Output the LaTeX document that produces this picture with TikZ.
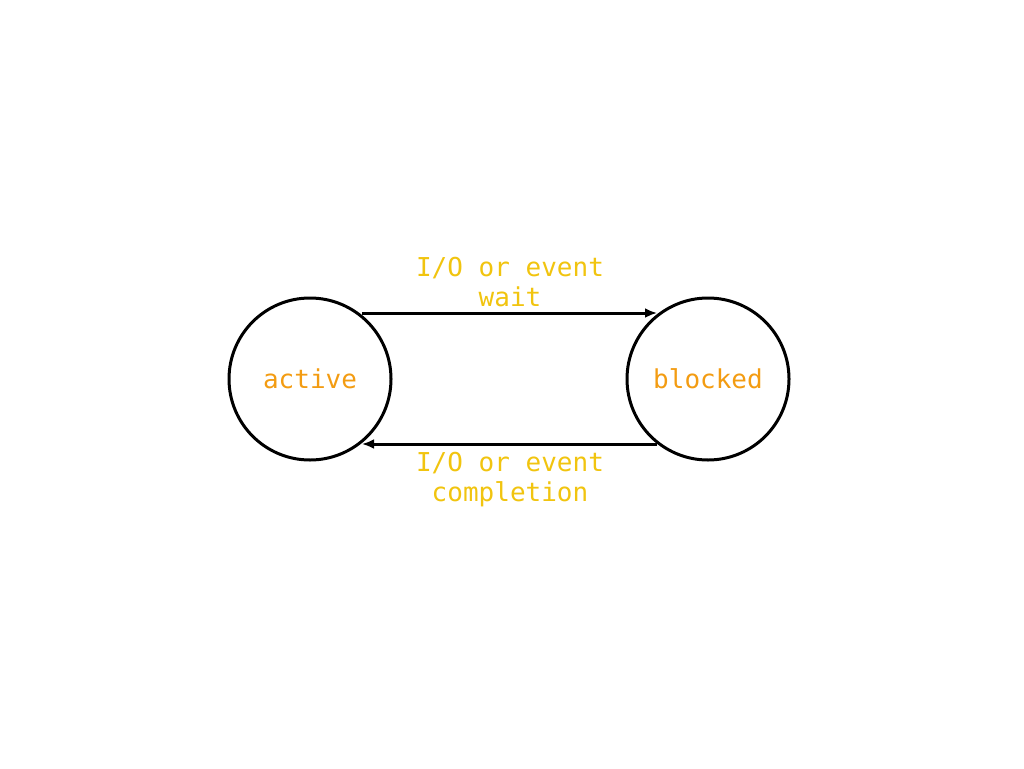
\documentclass[tikz,border=0pt]{standalone}
\usepackage{fontspec}
\setmonofont{DejaVu Sans Mono}
\definecolor{nodetxt}{HTML}{F39C12}
\definecolor{lbl}{HTML}{F1C40F}
\tikzset{
 st/.style={circle,draw=black,line width=3pt,minimum size=162pt,inner sep=0pt,text=nodetxt,font=\ttfamily\fontsize{26}{30}\selectfont},
 tr/.style={line width=3pt,-{Latex[length=12pt,width=10pt]}},
 lb/.style={text=lbl,align=center,font=\ttfamily\fontsize{26}{30}\selectfont}
}
\usetikzlibrary{arrows.meta}
\begin{document}
\begin{tikzpicture}[x=1pt,y=-1pt]
\useasboundingbox (0,0) rectangle (1024,768);
\node[st] (a) at (310,379) {active};
\node[st] (b) at (708,379) {blocked};
\coordinate (a1) at (362,313); \coordinate (b1) at (657,313);
\coordinate (a2) at (362,444); \coordinate (b2) at (657,444);
\draw[tr] (a1) -- (b1);
\draw[tr] (b2) -- (a2);
\node[lb] (l1) at (510,282) {I/O or event\\wait};
\node[lb] (l2) at (510,480) {I/O or event\\completion};
\end{tikzpicture}
\end{document}
